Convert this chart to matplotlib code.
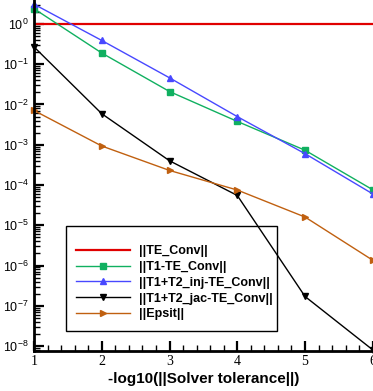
import matplotlib
matplotlib.use("Agg")
import matplotlib.pyplot as plt
from matplotlib.patches import Rectangle
from matplotlib.ticker import LogLocator, FixedLocator, MultipleLocator, LogFormatterMathtext, NullFormatter

# Solver tolerance exponents
tol = [1, 2, 3, 4, 5, 6]

# Norms
te_conv = [0.98, 0.98, 0.98, 0.98, 0.98, 0.98]
t1_te_conv = [2.4, 0.19, 0.021, 3.8e-3, 7.3e-4, 7.6e-5]
t1t2_inj = [3.1, 0.39, 0.046, 5.0e-3, 6.0e-4, 6.0e-5]
t1t2_jac = [0.27, 5.9e-3, 4.0e-4, 5.5e-5, 1.7e-7, 8.0e-9]
epsit = [7.1e-3, 9.3e-4, 2.3e-4, 7.5e-5, 1.6e-5, 1.35e-6]

labels = ["||TE_Conv||", "||T1-TE_Conv||", "||T1+T2_inj-TE_Conv||",
          "||T1+T2_jac-TE_Conv||", "||Epsit||"]
ydecades = [1e-8, 1e-7, 1e-6, 1e-5, 1e-4, 1e-3, 1e-2, 1e-1, 1e0]

plt.rcParams['font.family'] = ['Liberation Sans', 'DejaVu Sans']
plt.rcParams['mathtext.fontset'] = 'custom'
plt.rcParams['mathtext.rm'] = 'Liberation Sans'

fig = plt.figure(figsize=(3.73, 3.91), dpi=100)
ax = fig.add_axes([34 / 373, 40 / 391, 339 / 373, 351 / 391])

ax.plot(tol, te_conv, color='#e00000', lw=1.6, label=labels[0])
ax.plot(tol, t1_te_conv, color='#10b060', lw=1, marker='s', ms=5, label=labels[1], clip_on=False)
ax.plot(tol, t1t2_inj, color='#4848ff', lw=1, marker='^', ms=5, label=labels[2], clip_on=False)
ax.plot(tol, t1t2_jac, color='black', lw=1, marker='v', ms=5, label=labels[3], clip_on=False)
ax.plot(tol, epsit, color='#c06010', lw=1, marker='>', ms=5, label=labels[4], clip_on=False)

ax.set_yscale('log')
ax.set_xlim(1, 6.003)
ax.set_ylim(10 ** -8.124, 10 ** 0.596)

for side in ['top', 'right']:
    ax.spines[side].set_visible(False)
ax.spines['left'].set_linewidth(2)
ax.spines['bottom'].set_linewidth(2)

ax.xaxis.set_major_locator(FixedLocator(tol))
ax.xaxis.set_minor_locator(MultipleLocator(0.2))
ax.yaxis.set_major_locator(FixedLocator(ydecades))
ax.yaxis.set_minor_locator(LogLocator(base=10, subs=range(2, 10), numticks=20))
ax.yaxis.set_major_formatter(LogFormatterMathtext())
ax.yaxis.set_minor_formatter(NullFormatter())

ax.tick_params(which='major', direction='in', length=7, width=1.6, labelsize=9)
ax.tick_params(which='minor', direction='in', length=4, width=1)
ax.tick_params(axis='y', pad=4)
ax.tick_params(axis='x', pad=3)
for t in ax.get_xticklabels():
    t.set_family('Liberation Serif')
    t.set_fontsize(10)

ax.set_xlabel("-log10(||Solver tolerance||)", fontsize=11, fontweight='bold', labelpad=3)

# legend frame drawn separately, entries sit without their own box
ax.add_patch(Rectangle((0.0944, 0.057), 0.6225, 0.299, transform=ax.transAxes,
                       fill=False, edgecolor='black', lw=1, zorder=1))
leg = ax.legend(loc='upper left', bbox_to_anchor=(0.124, 0.301), frameon=False,
                handlelength=4.3, handletextpad=0.7, labelspacing=0.3,
                borderpad=0, borderaxespad=0,
                prop={'weight': 'bold', 'size': 9})

fig.savefig("out.png", dpi=100)
